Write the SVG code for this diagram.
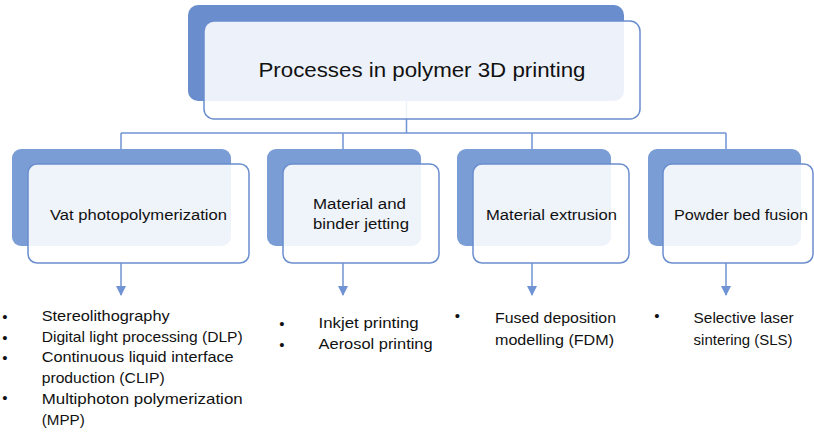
<svg xmlns="http://www.w3.org/2000/svg" width="814" height="433" viewBox="0 0 814 433">
<defs>
<style>
.back1{fill:#6a8dce;}
.back2{fill:#7b9dd6;}
.front{fill:#ffffff;fill-opacity:0.88;stroke:#6a8dce;stroke-width:1.5;}
.conn{fill:none;stroke:#7094d3;stroke-width:1.5;}
.t{font-family:"Liberation Sans",Arial,sans-serif;fill:#111111;}
.title{font-size:21px;text-anchor:middle;}
.lvl{font-size:15.5px;}
.mid{text-anchor:middle;}
.li{font-size:15px;}
.bul{font-size:15px;text-anchor:middle;}
</style>
<marker id="arr" markerWidth="10" markerHeight="10" refX="9" refY="5" orient="auto" markerUnits="userSpaceOnUse">
<path d="M0,0 L10,5 L0,10 Z" fill="#7094d3"/>
</marker>
</defs>
<rect width="814" height="433" fill="#ffffff"/>
<g id="connectors">
<path class="conn" d="M406.5,101 V133 M121,133 H726 M121,133 V149 M343,133 V149 M532,133 V149 M726,133 V149"/>
<path class="conn" d="M121,263 V295" marker-end="url(#arr)"/>
<path class="conn" d="M343,263 V295" marker-end="url(#arr)"/>
<path class="conn" d="M532,263 V295" marker-end="url(#arr)"/>
<path class="conn" d="M726,263 V295" marker-end="url(#arr)"/>
</g>
<g id="root">
<rect class="back1" x="188" y="5" width="436" height="96" rx="10"/>
<rect class="front" x="204" y="21" width="436" height="98" rx="10"/>
<text class="t title" x="422" y="77" textLength="327" lengthAdjust="spacingAndGlyphs">Processes in polymer 3D printing</text>
</g>
<g id="vat">
<rect class="back2" x="12" y="149" width="219" height="97" rx="9"/>
<rect class="front" x="28" y="164" width="221" height="99" rx="9"/>
<text class="t lvl mid" x="138.5" y="220" textLength="177" lengthAdjust="spacingAndGlyphs">Vat photopolymerization</text>
</g>
<g id="jetting">
<rect class="back2" x="267" y="149" width="154" height="97" rx="9"/>
<rect class="front" x="283" y="164" width="156" height="99" rx="9"/>
<text class="t lvl" x="313" y="209" textLength="93" lengthAdjust="spacingAndGlyphs">Material and</text>
<text class="t lvl" x="313" y="229" textLength="96" lengthAdjust="spacingAndGlyphs">binder jetting</text>
</g>
<g id="extrusion">
<rect class="back2" x="457" y="149" width="154" height="97" rx="9"/>
<rect class="front" x="473" y="164" width="156" height="99" rx="9"/>
<text class="t lvl mid" x="551.5" y="220" textLength="131" lengthAdjust="spacingAndGlyphs">Material extrusion</text>
</g>
<g id="powder">
<rect class="back2" x="648" y="149" width="153" height="97" rx="9"/>
<rect class="front" x="663" y="164" width="150" height="99" rx="9"/>
<text class="t lvl mid" x="741" y="220" textLength="134" lengthAdjust="spacingAndGlyphs">Powder bed fusion</text>
</g>
<g id="list-vat">
<text class="t bul" x="5" y="321.5">•</text>
<text class="t bul" x="5" y="342.5">•</text>
<text class="t bul" x="5" y="363">•</text>
<text class="t bul" x="5" y="403">•</text>
<text class="t li" x="41.7" y="320.5" textLength="128" lengthAdjust="spacingAndGlyphs">Stereolithography</text>
<text class="t li" x="41.7" y="341.5" textLength="201" lengthAdjust="spacingAndGlyphs">Digital light processing (DLP)</text>
<text class="t li" x="41.7" y="362" textLength="192" lengthAdjust="spacingAndGlyphs">Continuous liquid interface</text>
<text class="t li" x="41.7" y="383" textLength="123" lengthAdjust="spacingAndGlyphs">production (CLIP)</text>
<text class="t li" x="41.7" y="404" textLength="201" lengthAdjust="spacingAndGlyphs">Multiphoton polymerization</text>
<text class="t li" x="41.7" y="425" textLength="43" lengthAdjust="spacingAndGlyphs">(MPP)</text>
</g>
<g id="list-jetting">
<text class="t bul" x="282" y="328.5">•</text>
<text class="t bul" x="282" y="350">•</text>
<text class="t li" x="318.6" y="327.5" textLength="100" lengthAdjust="spacingAndGlyphs">Inkjet printing</text>
<text class="t li" x="318.6" y="349" textLength="114" lengthAdjust="spacingAndGlyphs">Aerosol printing</text>
</g>
<g id="list-extrusion">
<text class="t bul" x="457.5" y="320.5">•</text>
<text class="t li" x="495" y="322.5" textLength="121" lengthAdjust="spacingAndGlyphs">Fused deposition</text>
<text class="t li" x="495" y="344.5" textLength="119" lengthAdjust="spacingAndGlyphs">modelling (FDM)</text>
</g>
<g id="list-powder">
<text class="t bul" x="657" y="320.5">•</text>
<text class="t li" x="693.6" y="322.5" textLength="100" lengthAdjust="spacingAndGlyphs">Selective laser</text>
<text class="t li" x="693.6" y="344.5" textLength="99" lengthAdjust="spacingAndGlyphs">sintering (SLS)</text>
</g>
</svg>
